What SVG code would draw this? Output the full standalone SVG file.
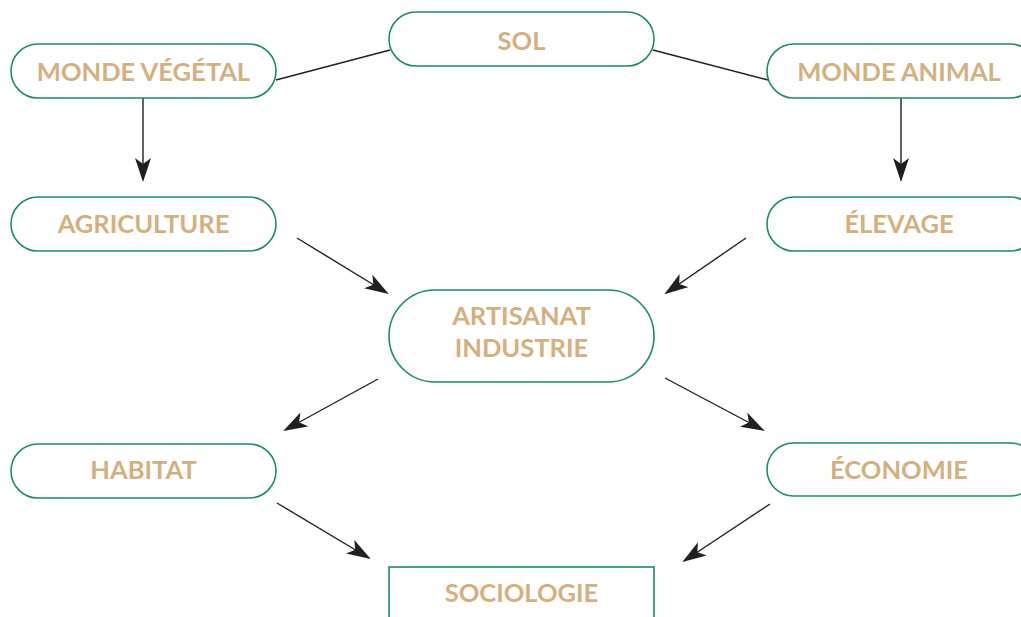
<svg xmlns="http://www.w3.org/2000/svg" width="1021" height="617" viewBox="0 0 1021 617">
  <style>
    .box { fill: #ffffff; stroke: #1b8a74; stroke-width: 1.6; }
    .lbl { font-family: "Lato", "Open Sans", sans-serif; font-weight: bold; font-size: 25.5px; fill: #d4b07e; text-anchor: middle; }
    .ln { stroke: #231f20; stroke-width: 1.4; fill: none; }
    .arr { stroke: #231f20; stroke-width: 1.4; fill: none; marker-end: url(#head); }
  </style>
  <defs>
    <marker id="head" viewBox="0 0 24 16" refX="22" refY="8" markerWidth="24" markerHeight="16" markerUnits="userSpaceOnUse" orient="auto">
      <path d="M0,0 L24,8 L0,16 L6,8 Z" fill="#231f20"/>
    </marker>
  </defs>
  <rect width="1021" height="617" fill="#ffffff"/>

  <g id="connectors">
    <line class="ln" x1="276" y1="80" x2="390" y2="50"/>
    <line class="ln" x1="653" y1="50" x2="768" y2="80"/>
    <line class="arr" x1="143" y1="98" x2="143" y2="180"/>
    <line class="arr" x1="901" y1="98" x2="901" y2="180"/>
    <line class="arr" x1="297" y1="238" x2="387" y2="293"/>
    <line class="arr" x1="746" y1="238" x2="666" y2="293"/>
    <line class="arr" x1="378" y1="379" x2="285" y2="430"/>
    <line class="arr" x1="665" y1="378" x2="763" y2="430"/>
    <line class="arr" x1="277" y1="503" x2="369" y2="558"/>
    <line class="arr" x1="770" y1="504" x2="684" y2="561"/>
  </g>

  <g id="sol">
    <rect class="box" x="389" y="12" width="265" height="54" rx="27"/>
    <text class="lbl" x="521.5" y="50">SOL</text>
  </g>
  <g id="monde-vegetal">
    <rect class="box" x="11" y="44" width="265" height="54" rx="27"/>
    <text class="lbl" x="143.5" y="81">MONDE VÉGÉTAL</text>
  </g>
  <g id="monde-animal">
    <rect class="box" x="767" y="44" width="270" height="54" rx="27"/>
    <text class="lbl" x="899" y="81">MONDE ANIMAL</text>
  </g>
  <g id="agriculture">
    <rect class="box" x="11" y="197" width="265" height="54" rx="27"/>
    <text class="lbl" x="143.5" y="233">AGRICULTURE</text>
  </g>
  <g id="elevage">
    <rect class="box" x="767" y="197" width="270" height="54" rx="27"/>
    <text class="lbl" x="899" y="233">ÉLEVAGE</text>
  </g>
  <g id="artisanat-industrie">
    <rect class="box" x="389" y="290" width="265" height="92" rx="46"/>
    <text class="lbl" x="521.5" y="325">ARTISANAT</text>
    <text class="lbl" x="521.5" y="357">INDUSTRIE</text>
  </g>
  <g id="habitat">
    <rect class="box" x="11" y="444" width="265" height="54" rx="27"/>
    <text class="lbl" x="143.5" y="479">HABITAT</text>
  </g>
  <g id="economie">
    <rect class="box" x="767" y="443" width="270" height="53" rx="26.5"/>
    <text class="lbl" x="899" y="479">ÉCONOMIE</text>
  </g>
  <g id="sociologie">
    <rect class="box" x="389" y="567" width="265" height="70"/>
    <text class="lbl" x="521.5" y="602">SOCIOLOGIE</text>
  </g>
</svg>
